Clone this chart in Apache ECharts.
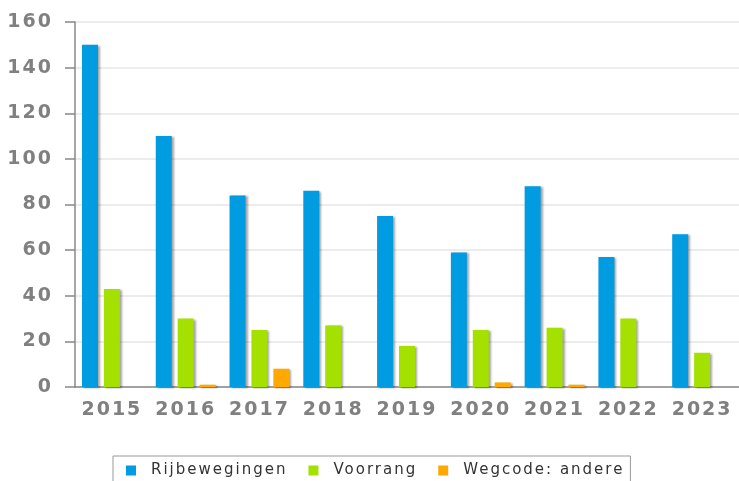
<!DOCTYPE html>
<html style="height: 100%">
<head>
 <meta charset="utf-8">
 <title>Overtredingen</title>
 <script src="https://cdn.jsdelivr.net/npm/echarts@6/dist/echarts.min.js"></script>
</head>
<body style="height: 100%; margin: 0; background: #fff">
 <div id="container" style="width: 739px; height: 481px"></div>
 <script type="text/javascript">
    var years = ['2015', '2016', '2017', '2018', '2019', '2020', '2021', '2022', '2023'];
    var rijbewegingen = [150, 110, 84, 86, 75, 59, 88, 57, 67];
    var voorrang = [43, 30, 25, 27, 18, 25, 26, 30, 15];
    var wegcodeAndere = [0, 1, 8, 0, 0, 2, 1, 0, 0];

    // the original chart uses wide letter spacing; canvas supports it, echarts doesn't expose it
    var fontDesc = Object.getOwnPropertyDescriptor(CanvasRenderingContext2D.prototype, 'font');
    Object.defineProperty(CanvasRenderingContext2D.prototype, 'font', {
        configurable: true,
        get: fontDesc.get,
        set: function (v) {
            fontDesc.set.call(this, v);
            if ('letterSpacing' in this) {
                this.letterSpacing = '2px';
            }
        }
    });

    var myChart = echarts.init(document.getElementById('container'));

    function bar(name, data, color) {
        return {
            name: name,
            type: 'bar',
            data: data,
            barWidth: 16,
            barGap: '37%',
            itemStyle: {
                color: color,
                shadowColor: 'rgba(0,0,0,0.35)',
                shadowBlur: 2,
                shadowOffsetX: 2,
                shadowOffsetY: 1
            }
        };
    }

    var axisFont = { color: '#808080', fontSize: 19, fontWeight: 'bold', fontFamily: 'DejaVu Sans' };

    myChart.setOption({
        animation: false,
        backgroundColor: '#fff',
        grid: { left: 75, top: 22, width: 667, bottom: 94 },
        legend: {
            left: 113,
            top: 456,
            itemWidth: 10,
            itemHeight: 10,
            itemGap: 21,
            icon: 'rect',
            borderColor: '#999',
            borderWidth: 1,
            padding: [6, 6, 10, 13],
            textStyle: { color: '#333', fontSize: 15, fontFamily: 'DejaVu Sans', padding: [0, 0, 0, 10] },
            data: ['Rijbewegingen', 'Voorrang', 'Wegcode: andere']
        },
        xAxis: {
            type: 'category',
            data: years,
            axisLine: { lineStyle: { color: '#888', width: 1.5 } },
            axisTick: { length: 7, lineStyle: { color: '#888', width: 1.5 } },
            axisLabel: Object.assign({ interval: 0, margin: 13 }, axisFont)
        },
        yAxis: {
            type: 'value',
            min: 0,
            max: 160,
            interval: 20,
            axisLine: { show: true, lineStyle: { color: '#888', width: 1.5 } },
            axisTick: { show: true, length: 10, lineStyle: { color: '#888', width: 1.5 } },
            splitLine: { lineStyle: { color: '#e6e6e6', width: 1.5 } },
            axisLabel: Object.assign({ margin: 22 }, axisFont)
        },
        series: [
            bar('Rijbewegingen', rijbewegingen, '#009ce2'),
            bar('Voorrang', voorrang, '#a4e000'),
            bar('Wegcode: andere', wegcodeAndere, '#ffa800')
        ]
    });
 </script>
</body>
</html>
